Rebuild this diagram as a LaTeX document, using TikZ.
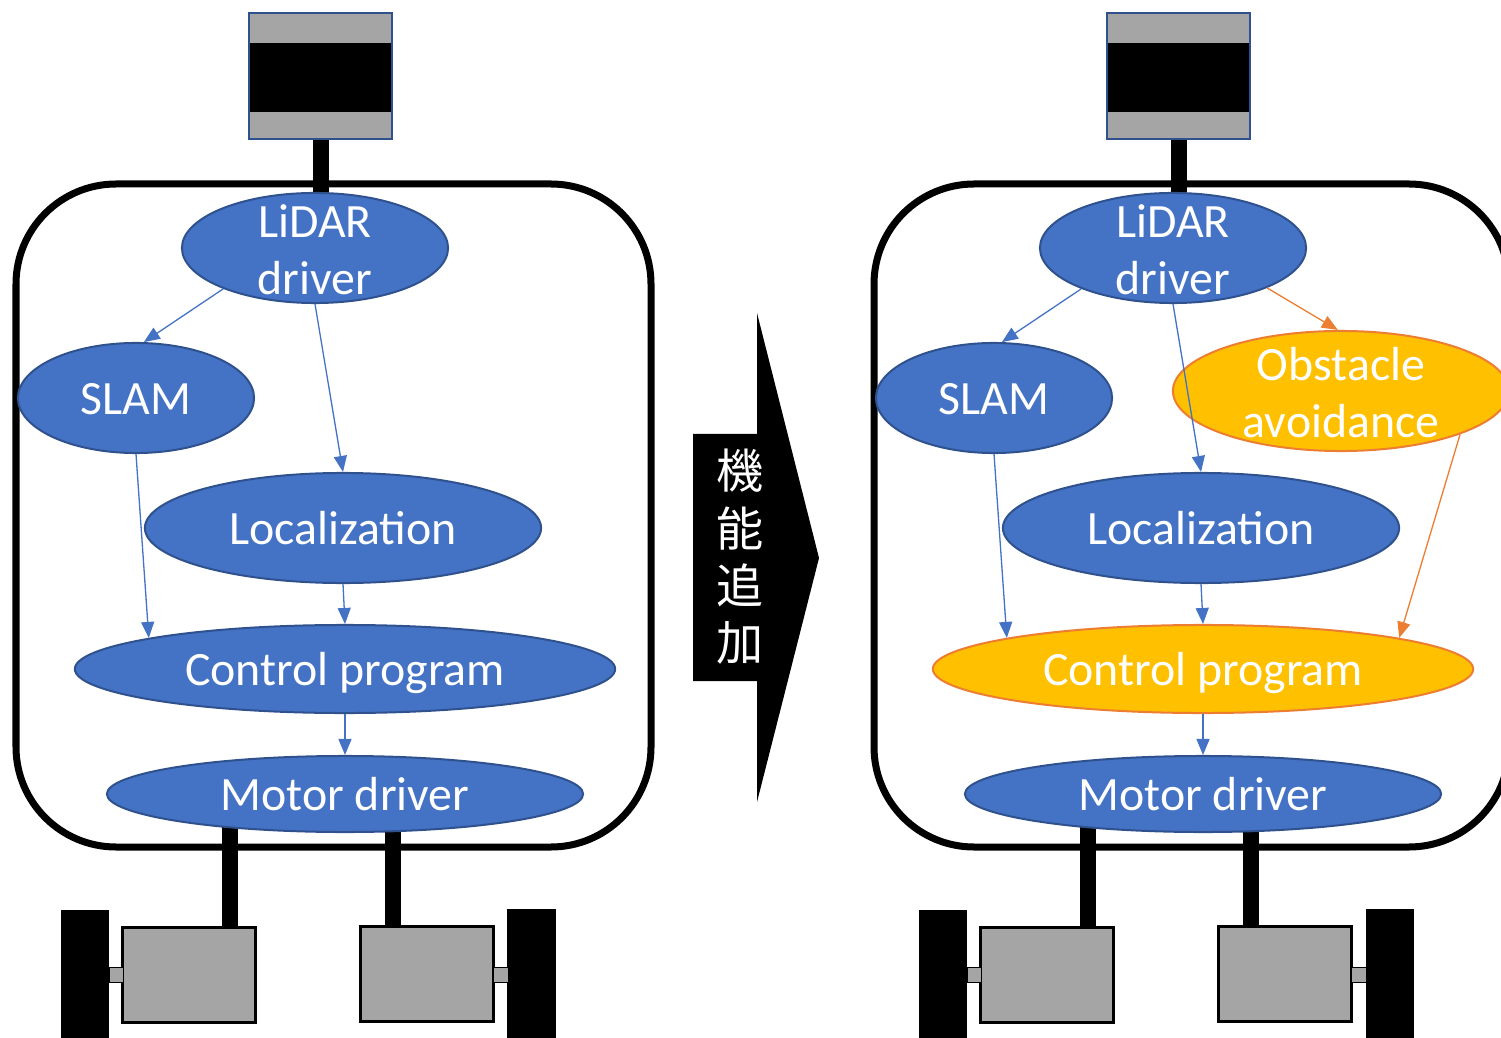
\documentclass[tikz,border=0pt]{standalone}
\usepackage{fontspec}
\setmainfont{Carlito}
\newfontfamily\jpfont{Noto Sans CJK JP}
\usetikzlibrary{shapes.geometric,arrows.meta,backgrounds}
\definecolor{boxblue}{HTML}{4472C4}
\definecolor{edgeblue}{HTML}{2F528F}
\definecolor{boxgold}{HTML}{FFC000}
\definecolor{edgeorange}{HTML}{ED7D31}
\definecolor{partgray}{HTML}{A5A5A5}
\newcommand\stacklabel[2]{\smash{\raisebox{-0.03cm}{\begin{tabular}{@{}c@{}}#1\\#2\end{tabular}}}}
\tikzset{
  proc/.style={ellipse,draw=edgeblue,fill=boxblue,line width=0.02cm,text=white,inner sep=0pt,
    text height=0.33cm,text depth=0cm,font=\fontsize{13.6}{16.2}\selectfont},
  newproc/.style={proc,draw=edgeorange,fill=boxgold},
  flow/.style={draw=boxblue,line width=0.013cm,-{Triangle[length=0.16cm,width=0.13cm]}},
  newflow/.style={flow,draw=edgeorange},
  frame/.style={draw=black,line width=0.07cm,rounded corners=1cm},
  stem/.style={draw=black,line width=0.16cm},
  sensor/.style={rectangle,draw=edgeblue,fill=partgray,line width=0.02cm,inner sep=0pt,
    minimum width=1.43cm,minimum height=1.26cm,
    path picture={\fill[black] ([yshift=-0.30cm]path picture bounding box.north west)
      rectangle ([yshift=0.27cm]path picture bounding box.south east);}},
  motor/.style={rectangle,draw=black,fill=partgray,line width=0.03cm,inner sep=0pt,
    minimum width=1.32cm,minimum height=0.94cm},
  wheel/.style={rectangle,fill=black,inner sep=0pt,minimum width=0.48cm,minimum height=1.30cm},
  axle/.style={draw=black,fill=partgray,line width=0.01cm}
}
\begin{document}
\begin{tikzpicture}[x=0.01cm,y=-0.01cm]
\useasboundingbox (0,0) rectangle (1501,1037);
\clip (0,0) rectangle (1501,1037);

\node[sensor] (sensor1) at (320.5,76) {};
\node[wheel] (wheel1a) at (85,975) {};
\node[wheel] (wheel1b) at (531.5,974) {};
\node[motor] (motor1a) at (189,975) {};
\node[motor] (motor1b) at (427,974) {};
\filldraw[axle] (109,967) rectangle (123,982);
\filldraw[axle] (493,967) rectangle (508,982);
\node[proc,minimum width=2.66cm,minimum height=1.10cm] (lidar1) at (315,248) {\stacklabel{LiDAR}{driver}};
\node[proc,minimum width=2.36cm,minimum height=1.10cm] (slam1) at (136,398) {SLAM};
\node[proc,minimum width=3.96cm,minimum height=1.10cm] (loc1) at (343,528) {Localization};
\node[proc,minimum width=5.40cm,minimum height=0.88cm] (ctrl1) at (345,669) {Control program};
\node[proc,minimum width=4.76cm,minimum height=0.76cm] (motdrv1) at (345,794) {Motor driver};
\coordinate (shaft1a) at (229.5,800);
\coordinate (shaft1b) at (393,800);
\begin{scope}[on background layer]
\draw[frame] (16,184) rectangle (651,847);
\draw[stem] (sensor1.south) -- (sensor1.south |- lidar1.center);
\draw[stem] (shaft1a) -- (shaft1a |- motor1a.north);
\draw[stem] (shaft1b) -- (shaft1b |- motor1b.north);
\end{scope}
\draw[flow] (lidar1.204) -- (slam1.82);
\draw[flow] (lidar1.south) -- (loc1.north);
\draw[flow] (slam1.south) -- (ctrl1.171);
\draw[flow] (loc1.south) -- (ctrl1.north);
\draw[flow] (ctrl1.south) -- (motdrv1.north);

\fill[black] (693,434) -- (757,434) -- (757,313) -- (819,558) -- (757,802) -- (757,681) -- (693,681) -- cycle;
\node[text=white,align=center,inner sep=0pt,font=\jpfont\fontsize{13.4}{16.3}\selectfont] (addfunc) at (740,557) {機\\能\\追\\加};

\node[sensor] (sensor2) at (1178.5,76) {};
\node[wheel] (wheel2a) at (943,975) {};
\node[wheel] (wheel2b) at (1389.5,974) {};
\node[motor] (motor2a) at (1047,975) {};
\node[motor] (motor2b) at (1285,974) {};
\filldraw[axle] (967,967) rectangle (981,982);
\filldraw[axle] (1351,967) rectangle (1366,982);
\node[proc,minimum width=2.66cm,minimum height=1.10cm] (lidar2) at (1173,248) {\stacklabel{LiDAR}{driver}};
\node[proc,minimum width=2.36cm,minimum height=1.10cm] (slam2) at (994,398) {SLAM};
\node[newproc,minimum width=3.36cm,minimum height=1.20cm] (obstacle2) at (1341,391) {\stacklabel{Obstacle}{avoidance}};
\node[proc,minimum width=3.96cm,minimum height=1.10cm] (loc2) at (1201,528) {Localization};
\node[newproc,minimum width=5.40cm,minimum height=0.88cm] (ctrl2) at (1203,669) {Control program};
\node[proc,minimum width=4.76cm,minimum height=0.76cm] (motdrv2) at (1203,794) {Motor driver};
\coordinate (shaft2a) at (1087.5,800);
\coordinate (shaft2b) at (1251,800);
\begin{scope}[on background layer]
\draw[frame] (874,184) rectangle (1509,847);
\draw[stem] (sensor2.south) -- (sensor2.south |- lidar2.center);
\draw[stem] (shaft2a) -- (shaft2a |- motor2a.north);
\draw[stem] (shaft2b) -- (shaft2b |- motor2b.north);
\end{scope}
\draw[flow] (lidar2.204) -- (slam2.82);
\draw[flow] (lidar2.south) -- (loc2.north);
\draw[newflow] (lidar2.337) -- (obstacle2.93);
\draw[flow] (slam2.south) -- (ctrl2.171);
\draw[newflow] (obstacle2.340) -- (ctrl2.9);
\draw[flow] (loc2.south) -- (ctrl2.north);
\draw[flow] (ctrl2.south) -- (motdrv2.north);
\end{tikzpicture}
\end{document}
